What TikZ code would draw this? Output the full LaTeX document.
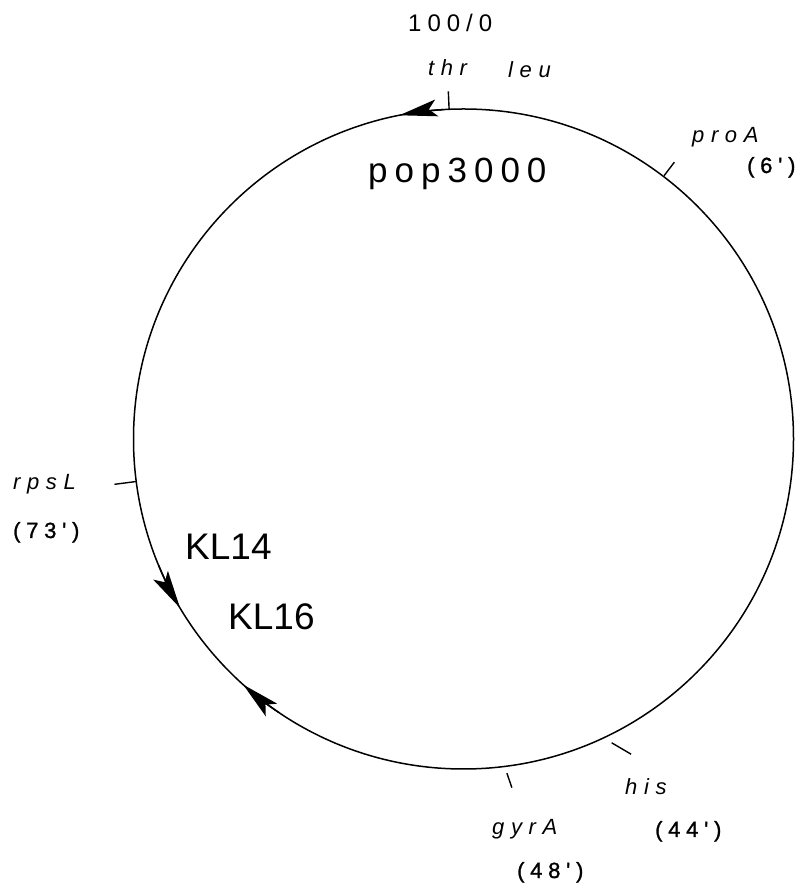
\documentclass[tikz,border=0pt]{standalone}
\usepackage{fontspec}
\setmainfont{Liberation Sans}
\newfontfamily\genefont[LetterSpace=30]{Liberation Sans}
\newfontfamily\numfont[LetterSpace=25]{Liberation Sans}
\newfontfamily\minfont[LetterSpace=26,FakeBold=1.2]{Liberation Sans}
\newfontfamily\bigfont[LetterSpace=20]{Liberation Sans}
\usetikzlibrary{arrows.meta}
\tikzset{
  map/.style={line width=1.5pt},
  tick/.style={line width=1.4pt},
  dirarrow/.style={line width=1.5pt,-{Stealth[length=38pt,width=17pt,inset=8pt]}},
  gene/.style={anchor=base west,inner sep=0pt,font=\genefont\itshape\fontsize{22}{24}\selectfont},
  minute/.style={anchor=base west,inner sep=0pt,font=\minfont\fontsize{22}{24}\selectfont},
  toplabel/.style={anchor=base west,inner sep=0pt,font=\numfont\fontsize{24}{26}\selectfont},
  strain/.style={anchor=base west,inner sep=0pt,font=\fontsize{37}{40}\selectfont},
  hfr/.style={anchor=base west,inner sep=0pt,font=\bigfont\fontsize{35}{38}\selectfont}
}
\begin{document}
\begin{tikzpicture}[x=1pt,y=1pt]
\useasboundingbox (0,0) rectangle (798,886);
\coordinate (C) at (463.5,447);
% chromosome
\draw[map] (C) circle[radius=330];
% direction arrows
\draw[dirarrow] ([shift={(93.5:330)}]C) arc[start angle=93.5, end angle=101.2, radius=330];
\draw[dirarrow] ([shift={(202.5:330)}]C) arc[start angle=202.5, end angle=210.8, radius=330];
\draw[dirarrow] ([shift={(236:330)}]C) arc[start angle=236, end angle=228.1, radius=330];
% gene ticks
\draw[tick] ([shift={(92.5:330)}]C) -- ([shift={(92.5:348)}]C);
\draw[tick] ([shift={(52.7:331)}]C) -- ([shift={(52.7:348)}]C);
\draw[tick] ([shift={(187.4:330)}]C) -- ([shift={(187.4:352)}]C);
\draw[tick] ([shift={(296:338)}]C) -- ([shift={(298:357)}]C);
\draw[tick] ([shift={(277.4:337)}]C) -- ([shift={(277.9:352)}]C);
% labels
\node[toplabel] (origin) at (408,854) {100/0};
\node[gene] (thr) at (428,810) {thr};
\node[gene] (leu) at (508,808) {leu};
\node[hfr] (pop) at (368,703) {pop3000};
\node[gene] (proA) at (692,743) {proA};
\node[minute] (proAm) at (747,713) {(6')};
\node[gene] (rpsL) at (13,396) {rpsL};
\node[minute] (rpsLm) at (13,348) {(73')};
\node[strain] (KL14) at (185,326) {KL14};
\node[strain] (KL16) at (228,256) {KL16};
\node[gene] (his) at (625,91) {his};
\node[minute] (hism) at (655,49) {(44')};
\node[gene] (gyrA) at (492,51) {gyrA};
\node[minute] (gyrAm) at (517,8) {(48')};
\end{tikzpicture}
\end{document}
